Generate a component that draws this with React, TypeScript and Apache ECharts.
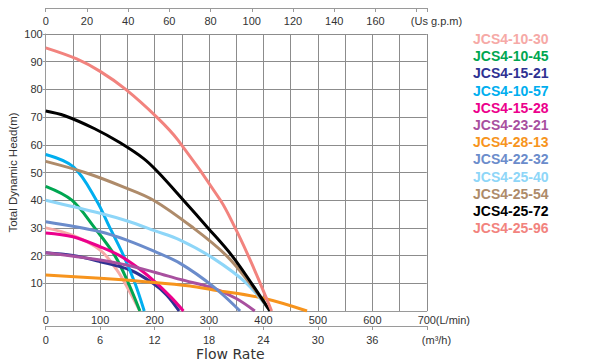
import React, { useEffect, useRef } from "react";
import * as echarts from "echarts";

const models = [
  "JCS4-10-30",
  "JCS4-10-45",
  "JCS4-15-21",
  "JCS4-10-57",
  "JCS4-15-28",
  "JCS4-23-21",
  "JCS4-28-13",
  "JCS4-22-32",
  "JCS4-25-40",
  "JCS4-25-54",
  "JCS4-25-72",
  "JCS4-25-96",
];

const colors = [
  "#F6A9A6",
  "#00A651",
  "#2E3192",
  "#00AEEF",
  "#EC008C",
  "#A8509F",
  "#F7941D",
  "#6B8CCB",
  "#8ED6F8",
  "#AE8B6A",
  "#000000",
  "#F2837E",
];

// [flow L/min, head m]
const jcs4_10_30 = [[0, 30], [50, 27.3], [100, 22], [130, 15], [150, 8.5], [173, 0]];
const jcs4_10_45 = [[0, 45], [48, 40], [90, 30], [127, 20], [152, 10], [173, 0]];
const jcs4_15_21 = [[0, 21], [50, 20], [100, 17.8], [155, 14.8], [197, 10], [222, 5.8], [245, 0]];
const jcs4_10_57 = [[0, 56.5], [51, 52], [93, 40], [118, 30], [143, 20], [164, 10], [181, 0]];
const jcs4_15_28 = [[0, 28.2], [50, 26.8], [100, 23.2], [136, 20], [170, 15.5], [204, 10], [230, 5], [253, 0]];
const jcs4_23_21 = [[0, 21], [100, 18.4], [150, 16.5], [200, 14], [247, 11.4], [308, 8.2], [350, 4.5], [384, 0]];
const jcs4_28_13 = [[0, 13], [100, 11.8], [200, 10.3], [265, 9], [308, 7.6], [400, 4.6], [480, 0]];
const jcs4_22_32 = [[0, 32.2], [100, 28.6], [150, 25.5], [200, 21.5], [247, 17.2], [308, 8.8], [357, 0]];
const jcs4_25_40 = [[0, 40], [100, 35.3], [150, 32.5], [200, 29], [247, 25.6], [308, 19], [369, 10], [412, 0]];
const jcs4_25_54 = [[0, 54], [72, 50], [140, 45], [198, 40], [271, 30], [332, 20], [375, 10], [412, 0]];
const jcs4_25_72 = [[0, 72.2], [35, 70.5], [90, 65.8], [136, 60.8], [180, 55], [207, 50], [253, 40], [298, 30], [342, 20], [378, 10], [412, 0]];
const jcs4_25_96 = [[0, 95], [57, 91], [100, 86.5], [147, 80], [204, 70], [243, 61.7], [321, 40], [348, 30], [372, 20], [394, 10], [415, 0]];

const curves = [
  jcs4_10_30, jcs4_10_45, jcs4_15_21, jcs4_10_57, jcs4_15_28, jcs4_23_21,
  jcs4_28_13, jcs4_22_32, jcs4_25_40, jcs4_25_54, jcs4_25_72, jcs4_25_96,
];

const flowMaxLmin = 700;
const flowMaxM3h = 42;
const flowMaxGpm = 700 / 3.785411784;

const labelColor = "#333";
const gridColor = "#8c8c8c";
const axisColor = "#9a9a9a";
const font = "Liberation Sans, Arial, sans-serif";

export default function App() {
  const ref = useRef<HTMLDivElement>(null);

  useEffect(() => {
    if (!ref.current) return;
    const chart = echarts.init(ref.current, null, { renderer: "svg" });
    chart.setOption({
      animation: false,
      backgroundColor: "#fff",
      textStyle: { fontFamily: font },
      grid: { left: 45.7, top: 34, right: 173.2, bottom: 52, containLabel: false, outerBoundsMode: "none" },
      legend: {
        orient: "vertical",
        left: 463,
        top: 27,
        icon: "none",
        itemWidth: 0,
        itemHeight: 14,
        itemGap: 3.2,
        selectedMode: false,
        textStyle: { fontSize: 14, fontWeight: "bold", fontFamily: font },
        data: models.map((m, i) => ({ name: m, textStyle: { color: colors[i] } })),
      },
      title: {
        text: "Flow Rate",
        left: 196,
        top: 347,
        padding: 0,
        textStyle: {
          fontSize: 14,
          lineHeight: 14,
          fontWeight: "normal",
          color: "#333",
          fontFamily: "DejaVu Sans, sans-serif",
        },
      },
      xAxis: [
        {
          type: "value",
          position: "bottom",
          min: 0,
          max: flowMaxLmin,
          interval: 100,
          axisLine: { show: true, lineStyle: { color: axisColor } },
          axisTick: { show: false },
          axisLabel: { margin: 3, fontSize: 11, color: labelColor },
          minorTick: { show: false, splitNumber: 2 },
          splitLine: { show: true, lineStyle: { color: gridColor, width: 1 } },
          minorSplitLine: { show: true, lineStyle: { color: gridColor, width: 1 } },
          name: "(L/min)",
          nameLocation: "end",
          nameGap: 9,
          nameMoveOverlap: false,
          nameTextStyle: { fontSize: 11, color: labelColor, verticalAlign: "top", padding: [3, 0, 0, 0] },
        },
        {
          type: "value",
          position: "bottom",
          offset: 15,
          min: 0,
          max: flowMaxM3h,
          interval: 6,
          axisLine: { show: true, lineStyle: { color: axisColor } },
          axisTick: { show: true, length: 4, lineStyle: { color: axisColor } },
          axisLabel: {
            margin: 8,
            fontSize: 11,
            color: labelColor,
            formatter: (v: number) => (v >= flowMaxM3h ? "" : String(v)),
          },
          splitLine: { show: false },
          name: "(m³/h)",
          nameLocation: "end",
          nameGap: -5,
          nameMoveOverlap: false,
          nameTextStyle: { fontSize: 11, color: labelColor, verticalAlign: "top", padding: [8, 0, 0, 0] },
        },
        {
          type: "value",
          position: "top",
          offset: 26,
          min: 0,
          max: flowMaxGpm,
          interval: 20,
          axisLine: { show: true, lineStyle: { color: axisColor } },
          axisTick: { show: true, inside: true, length: 4, lineStyle: { color: axisColor } },
          axisLabel: {
            inside: true,
            margin: 7,
            fontSize: 11,
            color: labelColor,
            formatter: (v: number) => (v > 170 ? "" : String(v)),
          },
          splitLine: { show: false },
          name: "(Us g.p.m)",
          nameLocation: "end",
          nameGap: -16,
          nameMoveOverlap: false,
          nameTextStyle: { fontSize: 11, color: labelColor, verticalAlign: "top", padding: [7, 0, 0, 0] },
        },
      ],
      yAxis: {
        type: "value",
        min: 0,
        max: 100,
        interval: 10,
        axisLine: { show: true, lineStyle: { color: axisColor } },
        axisTick: { show: true, length: 3, lineStyle: { color: axisColor } },
        axisLabel: { margin: 3, fontSize: 11, color: labelColor, showMinLabel: false },
        splitLine: { show: true, lineStyle: { color: gridColor, width: 1 } },
        name: "Total Dynamic Head(m)",
        nameLocation: "middle",
        nameGap: 27,
        nameMoveOverlap: false,
        nameTextStyle: { fontSize: 11.5, color: labelColor },
      },
      series: models.map((m, i) => ({
        name: m,
        type: "line",
        xAxisIndex: 0,
        data: curves[i],
        smooth: 0.35,
        showSymbol: false,
        symbol: "none",
        lineStyle: { color: colors[i], width: 3 },
        itemStyle: { color: colors[i] },
      })),
    });
    return () => chart.dispose();
  }, []);

  return <div ref={ref} style={{ width: 600, height: 363, position: "absolute", left: 0, top: 0 }} />;
}
